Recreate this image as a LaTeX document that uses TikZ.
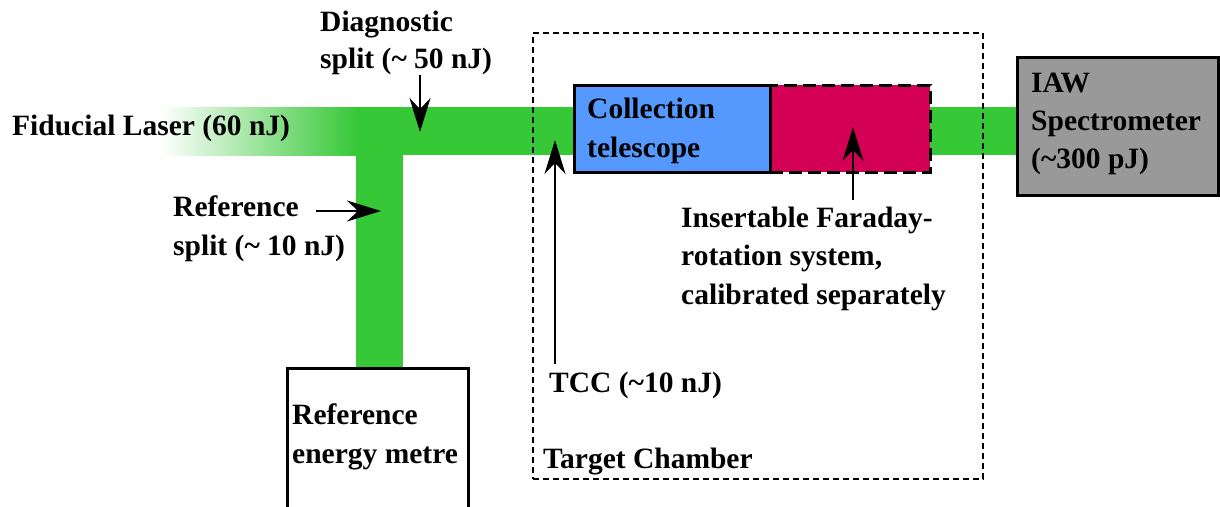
\documentclass[tikz,border=0pt]{standalone}
\usepackage{fontspec}
\setmainfont{Liberation Serif}
\usetikzlibrary{arrows.meta}
\definecolor{beam}{RGB}{55,200,55}
\definecolor{telblue}{RGB}{85,153,255}
\definecolor{farmag}{RGB}{212,0,85}
\definecolor{specgray}{RGB}{153,153,153}
\begin{document}
\begin{tikzpicture}[x=1pt,y=-1pt,
  lbl/.style={font=\bfseries\fontsize{29.5}{38.5}\selectfont, align=left, inner sep=0pt, anchor=base west},
  arr/.style={line width=2.4pt, -{Stealth[length=34pt,width=21pt,inset=11pt]}},
  box/.style={draw, line width=3pt, inner sep=0pt, outer sep=0pt, anchor=north west},
  beamfill/.style={fill=beam, draw=none},
]
\useasboundingbox (0,0) rectangle (1220,506);
% beams
\shade[left color=white, right color=beam] (160,107) rectangle (357,155);
\path[beamfill] (357,107) rectangle (1020,155);
\path[beamfill] (356,112) rectangle (403,370);
% boxes
\node[box, fill=farmag, dash pattern=on 13pt off 6pt, minimum width=160pt, minimum height=87pt] (far) at (770,85) {};
\node[box, fill=telblue, minimum width=196pt, minimum height=87pt] (tel) at (574,85) {};
\node[box, fill=specgray, minimum width=201pt, minimum height=138pt] (spec) at (1017,57) {};
\node[box, fill=white, minimum width=181pt, minimum height=160pt] (refm) at (287,368) {};
\node[draw, line width=1.8pt, dash pattern=on 6pt off 4pt, inner sep=0pt, outer sep=0pt, anchor=north west, minimum width=450pt, minimum height=446pt] (tc) at (533,33) {};
% labels (anchored at the baseline of their last line)
\node[lbl] (fid) at (12,135) {Fiducial Laser (60 nJ)};
\node[lbl, font=\bfseries\fontsize{29.5}{37}\selectfont] (diag) at (320,68) {Diagnostic\\split (\textasciitilde{} 50 nJ)};
\node[lbl] (refs) at (173,255) {Reference\\split (\textasciitilde{} 10 nJ)};
\node[lbl] (telt) at (587,157) {Collection\\telescope};
\node[lbl, font=\bfseries\fontsize{29.5}{38}\selectfont] (spect) at (1031,168) {IAW\\Spectrometer\\(\textasciitilde300 pJ)};
\node[lbl] (refmt) at (292,463) {Reference\\energy metre};
\node[lbl] (tcc) at (549,392) {TCC (\textasciitilde10 nJ)};
\node[lbl] (tct) at (543,468) {Target Chamber};
\node[lbl] (fart) at (681,304) {Insertable Faraday-\\rotation system,\\calibrated separately};
% arrow ends
\coordinate (diagA) at (420,75);
\coordinate (diagB) at (420,132);
\coordinate (refA) at (316,211);
\coordinate (refB) at (381,211);
\coordinate (tccA) at (555,364);
\coordinate (tccB) at (555,140);
\coordinate (farA) at (853,200);
\coordinate (farB) at (853,127);
\draw[arr] (diagA) -- (diagB);
\draw[arr] (refA) -- (refB);
\draw[arr] (tccA) -- (tccB);
\draw[arr] (farA) -- (farB);
\end{tikzpicture}
\end{document}
